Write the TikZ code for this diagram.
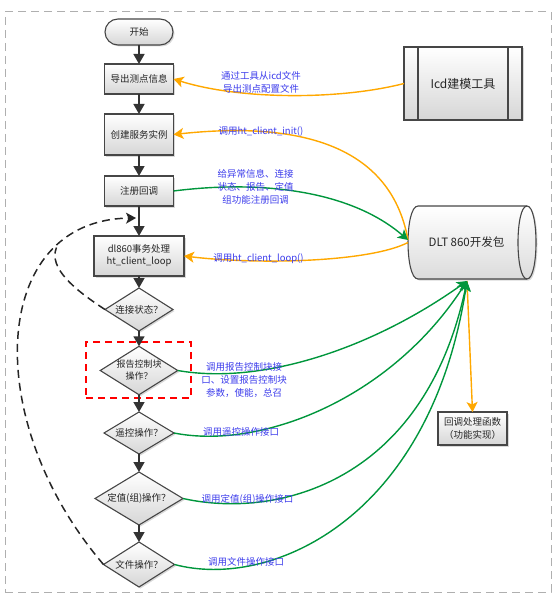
\documentclass[tikz,border=0pt]{standalone}
\usepackage{fontspec}
\setmainfont{Noto Sans CJK SC}
\usetikzlibrary{arrows.meta,shapes.geometric,shadows,calc}
\definecolor{orangeC}{RGB}{255,168,0}
\definecolor{greenC}{RGB}{0,150,60}
\definecolor{blueT}{RGB}{60,60,235}
\definecolor{edgeC}{RGB}{70,70,70}
\definecolor{frameC}{RGB}{175,175,175}
\begin{document}
\begin{tikzpicture}[x=1pt,y=-1pt,
  every node/.style={inner sep=0pt, outer sep=0pt},
  boxst/.style={draw=edgeC, line width=1.1pt, top color=white, bottom color=black!16,
    drop shadow={opacity=0.3,shadow xshift=1.5pt,shadow yshift=-1.5pt},
    align=center, font=\fontsize{9.5}{12}\selectfont, text=black!85},
  decst/.style={boxst, diamond, aspect=1.6},
  flow/.style={draw=black!80, line width=1.5pt, -{Triangle[length=10pt,width=11pt]}},
  orng/.style={draw=orangeC, line width=1.4pt, -{Stealth[length=10pt,width=11pt,inset=2.5pt]}},
  grn/.style={draw=greenC, line width=1.4pt, -{Stealth[length=10pt,width=11pt,inset=2.5pt]}},
  lbl/.style={text=blueT, align=center, font=\fontsize{9.5}{13}\selectfont},
  loopst/.style={draw=black!85, line width=1.5pt, dash pattern=on 8pt off 5pt},
]
\useasboundingbox (0,0) rectangle (554,599);
% outer frame
\node[draw=frameC, line width=1pt, dash pattern=on 8pt off 5pt, minimum width=546, minimum height=580] (frame) at (278,302) {};

% red highlight
\node[draw=red, line width=1.5pt, dash pattern=on 7pt off 5pt, minimum width=105, minimum height=56] (hl) at (138.5,370) {};

% flow nodes
\node[boxst, rounded corners=13pt, minimum width=68, minimum height=26] (start) at (139,32) {开始};
\node[boxst, minimum width=69, minimum height=30] (b1) at (139,79) {导出测点信息};
\node[boxst, minimum width=69, minimum height=41] (b2) at (139,134.5) {创建服务实例};
\node[boxst, minimum width=69, minimum height=30] (b3) at (139,191) {注册回调};
\node[boxst, minimum width=90, minimum height=40] (b4) at (139,256) {dl860事务处理\\ht\_client\_loop};
\node[decst, minimum width=68, minimum height=43] (d1) at (139,309.5) {连接状态？};
\node[decst, minimum width=75, minimum height=47, font=\fontsize{9}{12}\selectfont] (d2) at (139,370.5) {报告控制块\\操作？};
\node[decst, minimum width=70, minimum height=42] (d3) at (139,433) {遥控操作？};
\node[decst, minimum width=88, minimum height=53] (d4) at (139,498.5) {定值(组)操作？};
\node[decst, minimum width=71, minimum height=45] (d5) at (139,564.5) {文件操作？};

% right side
\node[boxst, minimum width=118, minimum height=73, font=\fontsize{12}{14}\selectfont] (icd) at (463,83.5) {Icd建模工具};
\draw[draw=edgeC, line width=1.1pt] ($(icd.north west)+(14,0)$) -- ($(icd.south west)+(14,0)$);
\draw[draw=edgeC, line width=1.1pt] ($(icd.north east)+(-14,0)$) -- ($(icd.south east)+(-14,0)$);

\path[draw=edgeC, line width=1.1pt, top color=white, bottom color=black!14,
  drop shadow={opacity=0.3,shadow xshift=1.5pt,shadow yshift=-1.5pt}]
  (418,206) -- (527,206) .. controls (539,206) and (539,279) .. (527,279)
  -- (418,279) .. controls (404.7,279) and (404.7,206) .. (418,206) -- cycle;
\draw[draw=edgeC, line width=1.1pt] (527,206) .. controls (515,206) and (515,279) .. (527,279);
\node[minimum width=117, minimum height=73, font=\fontsize{11.5}{14}\selectfont, text=black!85] (dlt) at (466.5,242.5) {DLT 860开发包};

\node[boxst, minimum width=69, minimum height=33, font=\fontsize{9.5}{13}\selectfont] (cb) at (472.5,428.5) {回调处理函数\\（功能实现）};

\coordinate (dltA) at (408,240);
\coordinate (dltB) at (467,281);
\coordinate (looptip) at (136,218);
\coordinate (merge) at (56.5,247.5);

% flow arrows
\draw[flow] (start) -- (b1);
\draw[flow] (b1) -- (b2);
\draw[flow] (b2) -- (b3);
\draw[flow] (b3) -- (b4);
\draw[flow] (b4) -- (d1);
\draw[flow] (d1) -- (d2);
\draw[flow] (d2) -- (d3);
\draw[flow] (d3) -- (d4);
\draw[flow] (d4) -- (d5);

% loop back
\draw[loopst, -{Stealth[length=10pt,width=11pt,inset=2.5pt]}] (d5.west) .. controls (-20,420) and (-10,220) .. (looptip);
\draw[loopst] (d1.west) .. controls (75,290) and (48,268) .. (merge);

% orange/green connectors
\draw[orangeC, line width=1.4pt, -{Stealth[length=10pt,width=11pt,inset=2.5pt]}] (dltB) -- (cb.north);
\draw[orng] (icd.west) .. controls (340,100) and (240,100) .. (b1.east);
\draw[orng] (dltA) .. controls (390,140) and (290,122) .. (b2.east);
\draw[grn] (b3.east) .. controls (260,180) and (350,190) .. (dltA);
\draw[orng] (dlt.west) .. controls (370,262) and (260,265) .. (b4.east);
\draw[grn] (d2.east) .. controls (260,385) and (370,350) .. (dltB);
\draw[grn] (d3.east) .. controls (260,450) and (390,400) .. (dltB);
\draw[grn] (d4.east) .. controls (280,520) and (425,480) .. (dltB);
\draw[grn] (d5.east) .. controls (270,590) and (430,520) .. (dltB);

% labels
\node[lbl] (l1) at (261,82) {通过工具从icd文件\\导出测点配置文件};
\node[lbl] (l2) at (261,132) {调用ht\_client\_init()};
\node[lbl] (l3) at (255.5,187) {给异常信息、连接\\状态、报告、定值\\组功能注册回调};
\node[lbl] (l4) at (258.5,259) {调用ht\_client\_loop()};
\node[lbl] (l5) at (244,380) {调用报告控制块接\\口、设置报告控制块\\参数，使能，总召};
\node[lbl] (l6) at (241,432) {调用遥控操作接口};
\node[lbl] (l7) at (247.5,499) {调用定值(组)操作接口};
\node[lbl] (l8) at (246,562) {调用文件操作接口};
\end{tikzpicture}
\end{document}
